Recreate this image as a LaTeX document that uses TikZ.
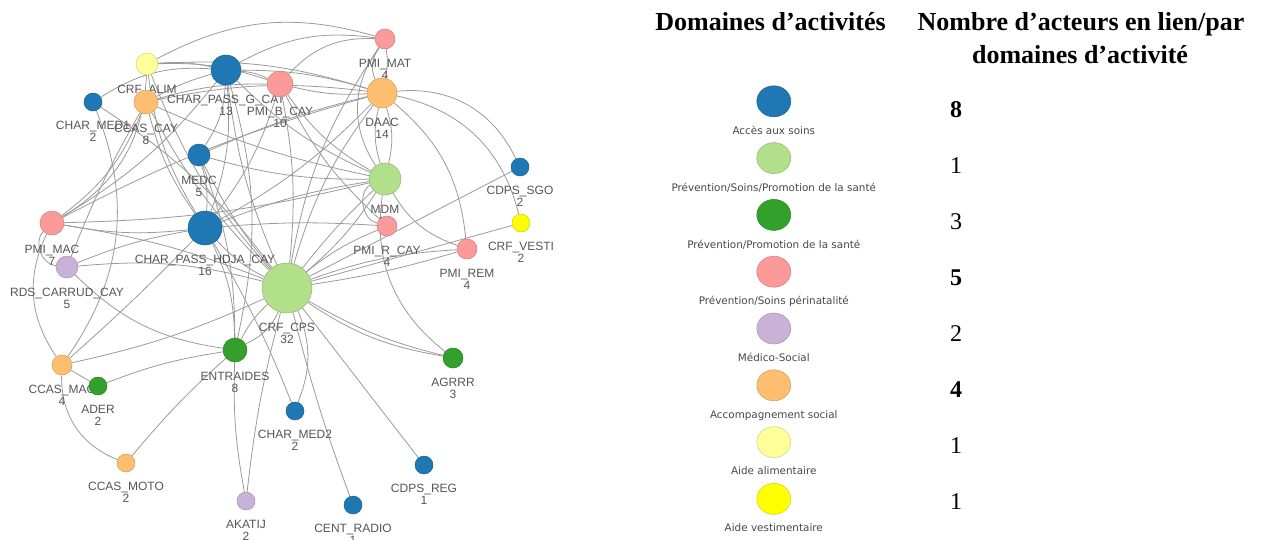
\documentclass[tikz,border=0pt]{standalone}
\usepackage{fontspec}
\setmainfont{Liberation Serif}
\newfontfamily\graphfont{Liberation Sans}
\newfontfamily\legfont{DejaVu Sans}
\usetikzlibrary{positioning,shapes.geometric,backgrounds}

\definecolor{acces}{HTML}{1F78B4}
\definecolor{psp}{HTML}{B2DF8A}
\definecolor{prom}{HTML}{33A02C}
\definecolor{peri}{HTML}{FB9A99}
\definecolor{medsoc}{HTML}{CAB2D6}
\definecolor{accomp}{HTML}{FDBF6F}
\definecolor{alim}{HTML}{FFFF99}
\definecolor{vesti}{HTML}{FFFF00}
\definecolor{lblgray}{HTML}{555555}
\definecolor{linkgray}{HTML}{9A9A9A}

\tikzset{
  actor/.style={circle, draw=#1!82!black, fill=#1, line width=0.5pt, inner sep=0pt},
  actlbl/.style={font=\graphfont\fontsize{12}{12}\selectfont, text=lblgray, align=center, inner sep=0pt},
  link/.style={draw=linkgray, line width=0.8pt},
  legdot/.style={ellipse, draw=#1!82!black, fill=#1, line width=0.5pt, minimum width=34pt, minimum height=31pt, inner sep=0pt},
  leglbl/.style={font=\legfont\fontsize{10.4}{11}\selectfont, text=black!72, inner sep=0pt},
  head/.style={font=\fontsize{26}{30}\selectfont\bfseries, inner sep=0pt, anchor=base},
  count/.style={font=\fontsize{24}{28}\selectfont, inner sep=0pt, anchor=base}
}

\begin{document}
\begin{tikzpicture}[x=1pt,y=-1pt]
\useasboundingbox (0,0) rectangle (1266,539);

% actors of the network
\foreach \nm/\x/\y/\d/\col/\lb/\cnt in {
  cps/287/288/50/psp/CRF\_CPS/32,
  hdja/205/228/34/acces/CHAR\_PASS\_HDJA\_CAY/16,
  gcat/226/70/30/acces/CHAR\_PASS\_G\_CAT/13,
  pmib/280/84/26/peri/PMI\_B\_CAY/10,
  pmimat/385/39/20/peri/PMI\_MAT/4,
  daac/382/93/30/accomp/DAAC/14,
  alim/147/64/22/alim/CRF\_ALIM/6,
  ccascay/146/102/24/accomp/CCAS\_CAY/8,
  med1/93/102/18/acces/CHAR\_MED1/2,
  medc/199/155/22/acces/MEDC/5,
  mdm/385/179/32/psp/MDM/15,
  sgo/520/167/18/acces/CDPS\_SGO/2,
  vesti/521/223/18/vesti/CRF\_VESTI/2,
  pmimac/52/223/24/peri/PMI\_MAC/7,
  pmir/387/226/20/peri/PMI\_R\_CAY/4,
  pmirem/467/249/20/peri/PMI\_REM/4,
  rds/67/267/22/medsoc/RDS\_CARRUD\_CAY/5,
  ccasmac/62/365/20/accomp/CCAS\_MAC/4,
  ader/98/386/18/prom/ADER/2,
  entr/235/350/24/prom/ENTRAIDES/8,
  agrrr/453/358/20/prom/AGRRR/3,
  med2/295/411/18/acces/CHAR\_MED2/2,
  moto/126/463/18/accomp/CCAS\_MOTO/2,
  reg/424/465/18/acces/CDPS\_REG/1,
  akatij/246/501/18/medsoc/AKATIJ/2,
  radio/353/505/18/acces/CENT\_RADIO/1}
{
  \node[actor=\col, minimum size=\d] (\nm) at (\x,\y) {};
  % Text Node
  \node[actlbl, below=10pt of \nm] (\nm-lbl) {\lb\\\cnt};
}

% links (behind the actors)
\begin{scope}[on background layer]
\foreach \a/\b/\bb in {
  alim/gcat/8, alim/pmib/10, alim/daac/10, alim/pmimat/22, alim/hdja/-12, alim/cps/-10, alim/pmimac/28,
  ccascay/gcat/6, ccascay/pmib/8, ccascay/daac/9, ccascay/hdja/-10, ccascay/cps/-8, ccascay/pmimac/15, ccascay/mdm/-6,
  med1/cps/10, med1/ccasmac/28, med1/gcat/18,
  gcat/pmib/10, gcat/daac/8, gcat/mdm/-10, gcat/medc/15, gcat/hdja/12, gcat/cps/-8, gcat/pmimat/18, gcat/pmimac/10, gcat/entr/14,
  pmib/daac/-8, pmib/mdm/-12, pmib/hdja/10, pmib/cps/8, pmib/pmir/-10, pmib/pmimat/25,
  daac/pmimat/-10, daac/pmimat/30, daac/mdm/15, daac/mdm/-15, daac/cps/-10, daac/hdja/8, daac/sgo/35, daac/vesti/32, daac/pmirem/22, daac/medc/-5, daac/pmimac/-6,
  pmimat/mdm/-35, pmimat/cps/-12,
  mdm/pmir/-70, mdm/pmirem/-20, mdm/hdja/-6, mdm/cps/8, mdm/cps/-4, mdm/agrrr/-30, mdm/medc/8, mdm/pmimac/6,
  medc/hdja/10, medc/cps/-6, medc/entr/10,
  hdja/pmir/4, hdja/rds/-6, hdja/pmimac/8, hdja/cps/-10, hdja/entr/12, hdja/med2/4, hdja/ccasmac/2,
  pmimac/rds/-65, pmimac/cps/6, pmimac/ccasmac/-30, rds/cps/10, rds/entr/-18, rds/ccascay/4,
  ccasmac/cps/-6, ccasmac/ader/0, ccasmac/moto/-35, ader/entr/6, moto/entr/4,
  entr/cps/10, entr/cps/-20, entr/akatij/-6, akatij/cps/4,
  med2/cps/-22, radio/cps/3, reg/cps/0, agrrr/cps/8, agrrr/cps/12,
  pmirem/cps/-8, pmirem/cps/4, pmir/cps/-8, vesti/cps/0, sgo/cps/0}
  \draw[link] (\a) to[bend left=\bb] (\b);
\end{scope}

% legend
\node[head] (hdom) at (770.5,30) {Domaines d’activités};
\node[head] (hnb1) at (1081,30) {Nombre d’acteurs en lien/par};
\node[head] (hnb2) at (1080,63) {domaines d’activité};

\foreach \nm/\col/\lb/\cnt [count=\i from 0] in {
  la/acces/{Accès aux soins}/\textbf{8},
  lb/psp/{Prévention/Soins/Promotion de la santé}/1,
  lc/prom/{Prévention/Promotion de la santé}/3,
  ld/peri/{Prévention/Soins périnatalité}/\textbf{5},
  le/medsoc/{Médico-Social}/2,
  lf/accomp/{Accompagnement social}/\textbf{4},
  lg/alim/{Aide alimentaire}/1,
  lh/vesti/{Aide vestimentaire}/1}
{
  \node[legdot=\col] (\nm) at (773.8,101.3+56.8*\i) {};
  \node[leglbl, below=9pt of \nm] (\nm-lbl) {\lb};
  \node[count] (\nm-nb) at (956,117.5+56*\i) {\cnt};
}
\end{tikzpicture}
\end{document}
